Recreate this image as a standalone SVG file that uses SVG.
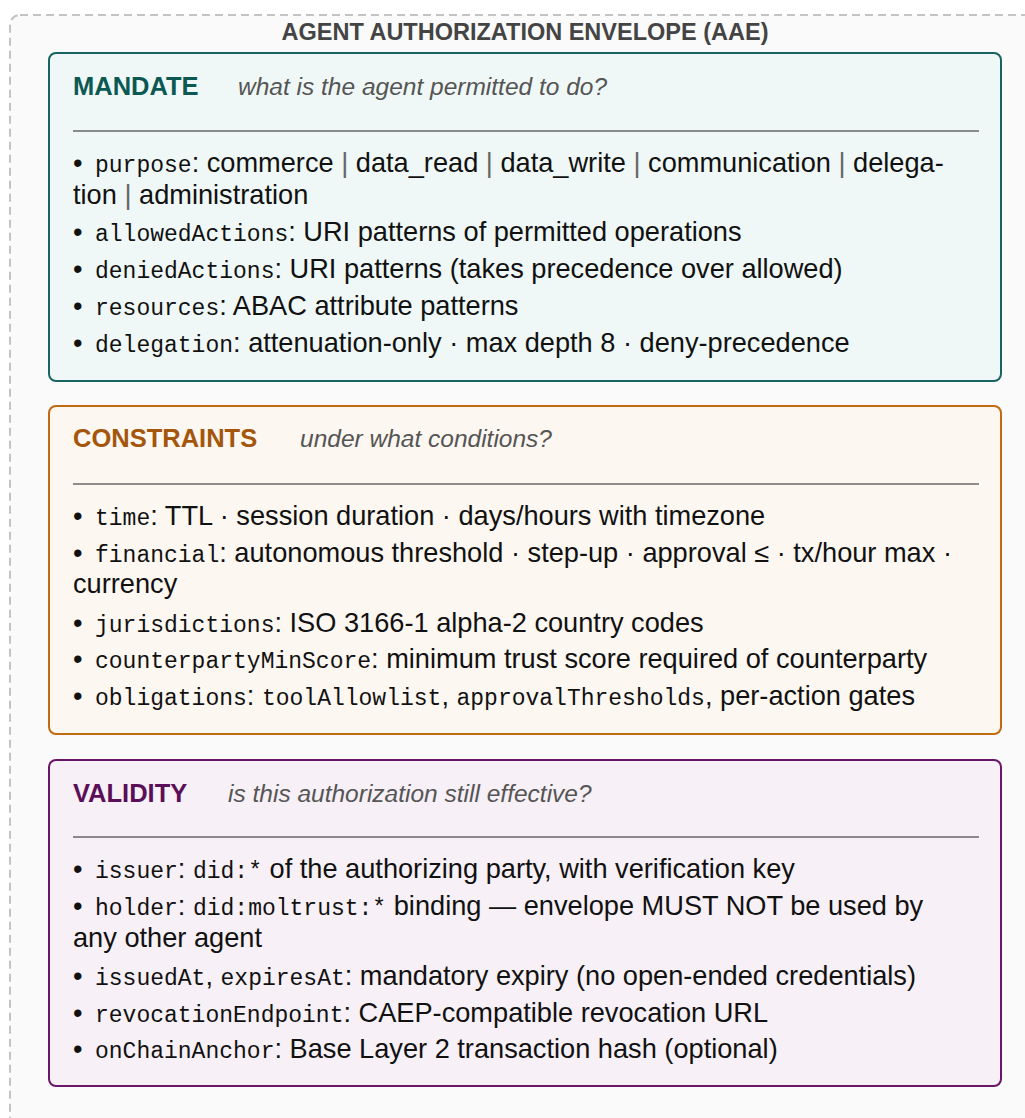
<svg xmlns="http://www.w3.org/2000/svg" width="1025" height="1118" viewBox="0 0 1025 1118">
<style>
.body{font-family:"Liberation Sans",Arial,Helvetica,sans-serif;font-size:27.2px;fill:#111;}
.mono{font-family:"Liberation Mono","Courier New",monospace;font-size:23px;}
.head{font-family:"Liberation Sans",Arial,Helvetica,sans-serif;font-size:25.5px;font-weight:bold;}
.sub{font-family:"Liberation Sans",Arial,Helvetica,sans-serif;font-size:24.5px;font-style:italic;fill:#555;}
.rule{stroke:#222;stroke-width:1.2;}
.sep{fill:#666;}
</style>
<rect x="10" y="15" width="1045" height="1140" rx="10" fill="#fafafa" stroke="#c4c4c4" stroke-width="2" stroke-dasharray="8 5"/>
<text x="525" y="40" text-anchor="middle" font-family="'Liberation Sans',Arial,Helvetica,sans-serif" font-size="23.5" font-weight="bold" fill="#444">AGENT AUTHORIZATION ENVELOPE (AAE)</text>

<g id="mandate">
<rect x="49" y="53" width="952" height="328" rx="7" fill="#eff8f7" stroke="#176463" stroke-width="2"/>
<text class="head" x="73" y="95" fill="#0c5852">MANDATE</text>
<text class="sub" x="238" y="95">what is the agent permitted to do?</text>
<line class="rule" x1="73" y1="131" x2="979" y2="131"/>
<text class="body" x="73" y="172">•<tspan x="95" class="mono">purpose</tspan>: commerce <tspan class="sep">|</tspan> data_read <tspan class="sep">|</tspan> data_write <tspan class="sep">|</tspan> communication <tspan class="sep">|</tspan> delega-</text>
<text class="body" x="73" y="204">tion <tspan class="sep">|</tspan> administration</text>
<text class="body" x="73" y="241">•<tspan x="95" class="mono">allowedActions</tspan>: URI patterns of permitted operations</text>
<text class="body" x="73" y="278">•<tspan x="95" class="mono">deniedActions</tspan>: URI patterns (takes precedence over allowed)</text>
<text class="body" x="73" y="315">•<tspan x="95" class="mono">resources</tspan>: ABAC attribute patterns</text>
<text class="body" x="73" y="352">•<tspan x="95" class="mono">delegation</tspan>: attenuation-only · max depth 8 · deny-precedence</text>
</g>

<g id="constraints">
<rect x="49" y="406" width="952" height="328" rx="7" fill="#fdf7f1" stroke="#c06a12" stroke-width="2"/>
<text class="head" x="73" y="447" fill="#a3560c">CONSTRAINTS</text>
<text class="sub" x="300" y="447">under what conditions?</text>
<line class="rule" x1="73" y1="484" x2="979" y2="484"/>
<text class="body" x="73" y="525">•<tspan x="95" class="mono">time</tspan>: TTL · session duration · days/hours with timezone</text>
<text class="body" x="73" y="562">•<tspan x="95" class="mono">financial</tspan>: autonomous threshold · step-up · approval ≤ · tx/hour max ·</text>
<text class="body" x="73" y="593">currency</text>
<text class="body" x="73" y="632">•<tspan x="95" class="mono">jurisdictions</tspan>: ISO 3166-1 alpha-2 country codes</text>
<text class="body" x="73" y="668">•<tspan x="95" class="mono">counterpartyMinScore</tspan>: minimum trust score required of counterparty</text>
<text class="body" x="73" y="705">•<tspan x="95" class="mono">obligations</tspan>: <tspan class="mono">toolAllowlist</tspan>, <tspan class="mono">approvalThresholds</tspan>, per-action gates</text>
</g>

<g id="validity">
<rect x="49" y="760" width="952" height="326" rx="7" fill="#f7f0f6" stroke="#6a1668" stroke-width="2"/>
<text class="head" x="73" y="802" fill="#5a0f58">VALIDITY</text>
<text class="sub" x="228" y="802">is this authorization still effective?</text>
<line class="rule" x1="73" y1="837" x2="979" y2="837"/>
<text class="body" x="73" y="878">•<tspan x="95" class="mono">issuer</tspan>: <tspan class="mono">did:*</tspan> of the authorizing party, with verification key</text>
<text class="body" x="73" y="915">•<tspan x="95" class="mono">holder</tspan>: <tspan class="mono">did:moltrust:*</tspan> binding — envelope MUST NOT be used by</text>
<text class="body" x="73" y="947">any other agent</text>
<text class="body" x="73" y="985">•<tspan x="95" class="mono">issuedAt</tspan>, <tspan class="mono">expiresAt</tspan>: mandatory expiry (no open-ended credentials)</text>
<text class="body" x="73" y="1022">•<tspan x="95" class="mono">revocationEndpoint</tspan>: CAEP-compatible revocation URL</text>
<text class="body" x="73" y="1058">•<tspan x="95" class="mono">onChainAnchor</tspan>: Base Layer 2 transaction hash (optional)</text>
</g>
</svg>
